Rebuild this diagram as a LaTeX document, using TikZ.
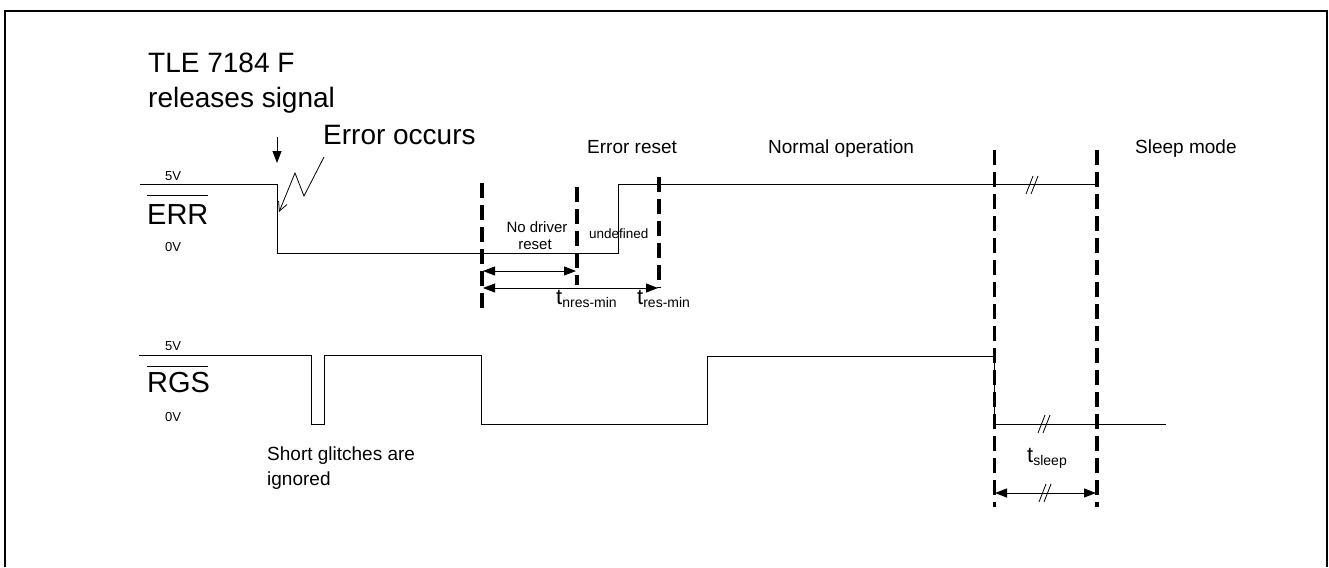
\documentclass[tikz,border=0pt]{standalone}
\usepackage{fontspec}
\setmainfont{Liberation Sans}
\usetikzlibrary{arrows.meta}
\newcommand\fsz[1]{\fontsize{#1}{#1}\selectfont}
\begin{document}
\begin{tikzpicture}[x=1pt,y=-1pt,
  sig/.style={line width=1pt,line join=miter},
  marker/.style={line width=3.5pt,dash pattern=on 15pt off 7pt},
  txt/.style={inner sep=0pt,anchor=base west},
  big/.style={txt,font=\fsz{28}},
  mid/.style={txt,font=\fsz{19}},
  small/.style={txt,font=\fsz{13}},
  dim/.style={line width=1pt,{Triangle[length=12pt,width=9pt]}-{Triangle[length=12pt,width=9pt]}},
  brk/.pic={\draw[line width=0.8pt] (-6,9) -- (1,-9); \draw[line width=0.8pt] (-1,9) -- (6,-9);}
]
\useasboundingbox (0,0) rectangle (1329,567);
% frame
\draw[line width=1.5pt] (5,567) -- (5,11) -- (1327,11) -- (1327,567);

% titles
\node[big] (tle) at (148,73) {TLE 7184 F};
\node[big] (rel) at (148,108) {releases signal};
\node[big] (eocc) at (323,144) {Error occurs};
\node[mid] (ereset) at (587,153) {Error reset};
\node[mid] (normal) at (768,153) {Normal operation};
\node[mid] (sleep) at (1135,153) {Sleep mode};

% ERR labels
\node[small] (e5) at (165,180) {5V};
\node[txt,font=\fsz{29}] (err) at (147,224) {ERR};
\draw[line width=1pt] (147,195) -- (208,195);
\node[small] (e0) at (165,251) {0V};

% RGS labels
\node[small] (r5) at (165,350) {5V};
\node[txt,font=\fsz{29}] (rgs) at (147,392) {RGS};
\draw[line width=1pt] (147,366) -- (208,366);
\node[small] (r0) at (165,421) {0V};

% ERR waveform
\draw[sig] (140,184) -- (277,184) -- (277,253) -- (618,253) -- (618,184) -- (1097,184);
\pic at (1032,185) {brk};

% RGS waveform
\draw[sig] (139,355) -- (311,355) -- (311,424) -- (324,424) -- (324,355) -- (481,355) -- (481,424)
  -- (707,424) -- (707,356) -- (994,356) -- (994,424) -- (1166,424);
\pic at (1044,424) {brk};

% release arrow
\coordinate (rtop) at (277,137);
\coordinate (rtip) at (277,163);
\draw[line width=1pt,-{Triangle[length=12pt,width=9pt]}] (rtop) -- (rtip);

% error lightning
\coordinate (z0) at (324,157);
\coordinate (z1) at (304,196);
\coordinate (z2) at (295,173);
\coordinate (z3) at (279,212);
\draw[line width=0.8pt,-{Straight Barb[length=9pt,width=9pt]}] (z0) -- (z1) -- (z2) -- (z3);

% dashed markers
\coordinate (d1t) at (482,183); \coordinate (d1b) at (482,308);
\coordinate (d2t) at (577,187); \coordinate (d2b) at (577,285);
\coordinate (d3t) at (659,177); \coordinate (d3b) at (659,288);
\coordinate (d4t) at (994.5,150); \coordinate (d4b) at (994.5,507);
\coordinate (d5t) at (1097,150); \coordinate (d5b) at (1097,507);
\draw[marker] (d1t) -- (d1b);
\draw[marker] (d2t) -- (d2b);
\draw[marker] (d3t) -- (d3b);
\draw[marker] (d4t) -- (d4b);
\draw[marker] (d5t) -- (d5b);

% interval labels
\node[txt,font=\fsz{15},anchor=base] (nd1) at (537,232) {No driver};
\node[txt,font=\fsz{15},anchor=base] (nd2) at (535,249) {reset};
\node[txt,font=\fsz{13.5}] (undef) at (589,238) {undefined};

% dimension arrows
\coordinate (a1l) at (483,271); \coordinate (a1r) at (576,271);
\coordinate (a2l) at (483,288); \coordinate (a2r) at (658,288);
\draw[dim] (a1l) -- (a1r);
\draw[dim] (a2l) -- (a2r);
\node[txt] (tn) at (556,304) {\fsz{22}t\raisebox{-3pt}{\fsz{14}nres-min}};
\node[txt] (tr) at (637,304) {\fsz{22}t\raisebox{-3pt}{\fsz{14}res-min}};

\coordinate (s1l) at (995,493); \coordinate (s1r) at (1096,493);
\draw[dim] (s1l) -- (s1r);
\pic at (1045,493) {brk};
\node[txt] (ts) at (1027,462) {\fsz{22}t\raisebox{-3pt}{\fsz{14}sleep}};

% glitch note
\node[mid] (gl1) at (267,460) {Short glitches are};
\node[mid] (gl2) at (267,485) {ignored};
\end{tikzpicture}
\end{document}
